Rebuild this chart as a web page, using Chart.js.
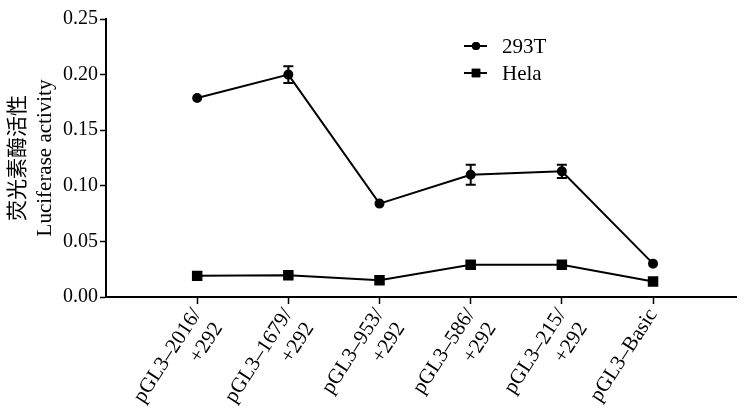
<!DOCTYPE html>
<html>
<head>
<meta charset="utf-8">
<script src="https://cdn.jsdelivr.net/npm/chart.js@4/dist/chart.umd.min.js"></script>
<style>
  html, body { margin: 0; padding: 0; background: #fff; }
  #wrap { width: 744px; height: 408px; }
</style>
</head>
<body>
<div id="wrap"><canvas id="c"></canvas></div>
<script>
const categories = [
  ['pGL3–2016/', '+292'],
  ['pGL3–1679/', '+292'],
  ['pGL3–953/', '+292'],
  ['pGL3–586/', '+292'],
  ['pGL3–215/', '+292'],
  ['pGL3–Basic']
];
const values293T = [0.179, 0.200, 0.084, 0.110, 0.113, 0.030];
const err293T    = [0.000, 0.0075, 0.000, 0.009, 0.006, 0.000];
const valuesHela = [0.019, 0.0195, 0.015, 0.029, 0.029, 0.014];
const errHela    = [0.000, 0.000, 0.000, 0.003, 0.000, 0.000];
const yTicks = [0, 0.05, 0.10, 0.15, 0.20, 0.25];

const serif = "'Liberation Serif', 'Noto Sans CJK SC', serif";

const toPoints = vals => vals.map((v, i) => ({ x: i, y: v }));

/* error bars + in-plot legend */
const extras = {
  id: 'extras',
  afterDatasetsDraw(chart) {
    const ctx = chart.ctx;
    const xs = chart.scales.x, ys = chart.scales.y;
    const errs = [err293T, errHela];
    ctx.save();
    ctx.strokeStyle = '#000';
    ctx.lineWidth = 2;
    chart.data.datasets.forEach((ds, d) => {
      ds.data.forEach((p, i) => {
        const e = errs[d][i];
        if (!e) return;
        const x = xs.getPixelForValue(p.x);
        const top = ys.getPixelForValue(p.y + e);
        const bot = ys.getPixelForValue(p.y - e);
        ctx.beginPath();
        ctx.moveTo(x, top); ctx.lineTo(x, bot);
        ctx.moveTo(x - 5, top); ctx.lineTo(x + 5, top);
        ctx.moveTo(x - 5, bot); ctx.lineTo(x + 5, bot);
        ctx.stroke();
      });
    });

    // legend
    const lx = 464, items = [['293T', 'circle', 4, 46], ['Hela', 'rect', 6, 73]];
    ctx.font = '21px ' + serif;
    ctx.textBaseline = 'middle';
    ctx.fillStyle = '#000';
    items.forEach(([label, style, r, y]) => {
      ctx.beginPath();
      ctx.moveTo(lx, y); ctx.lineTo(lx + 23, y);
      ctx.stroke();
      Chart.helpers.drawPoint(ctx, { pointStyle: style, radius: r, borderWidth: 0 }, lx + 12, y);
      ctx.fill();
      ctx.fillText(label, lx + 38, y + 1);
    });
    ctx.restore();
  }
};

new Chart(document.getElementById('c'), {
  type: 'line',
  data: {
    datasets: [{
      label: '293T',
      data: toPoints(values293T),
      borderColor: '#000',
      backgroundColor: '#000',
      borderWidth: 2,
      pointStyle: 'circle',
      pointRadius: 4,
      pointHoverRadius: 4
    }, {
      label: 'Hela',
      data: toPoints(valuesHela),
      borderColor: '#000',
      backgroundColor: '#000',
      borderWidth: 2,
      pointStyle: 'rect',
      pointRadius: 6,
      pointHoverRadius: 6
    }]
  },
  options: {
    responsive: true,
    maintainAspectRatio: false,
    animation: false,
    layout: { padding: { top: 19, right: 0, left: 0, bottom: 0 } },
    plugins: { legend: { display: false }, tooltip: { enabled: false } },
    scales: {
      x: {
        type: 'linear',
        min: -1,
        max: 5.91,
        afterBuildTicks: s => { s.ticks = categories.map((_, i) => ({ value: i })); },
        afterFit: s => { s.height = 111; },
        grid: { drawOnChartArea: false, color: '#000', tickLength: 7, tickWidth: 1.5 },
        border: { color: '#000', width: 2 },
        ticks: {
          color: '#000',
          font: { family: serif, size: 21 },
          minRotation: 57,
          maxRotation: 57,
          padding: 0,
          callback: v => categories[v]
        }
      },
      y: {
        min: 0,
        max: 0.25,
        afterBuildTicks: s => { s.ticks = yTicks.map(v => ({ value: v })); },
        afterFit: s => { s.width = 106; },
        grid: { drawOnChartArea: false, color: '#000', tickLength: 6, tickWidth: 1.5 },
        border: { color: '#000', width: 2 },
        title: {
          display: true,
          text: ['荧光素酶活性', 'Luciferase activity'],
          color: '#000',
          font: { family: serif, size: 21, lineHeight: 1.3 },
          padding: { top: 5, bottom: 0 }
        },
        ticks: {
          color: '#000',
          font: { family: serif, size: 20 },
          padding: 2,
          callback: v => v.toFixed(2)
        }
      }
    }
  },
  plugins: [extras]
});
</script>
</body>
</html>
